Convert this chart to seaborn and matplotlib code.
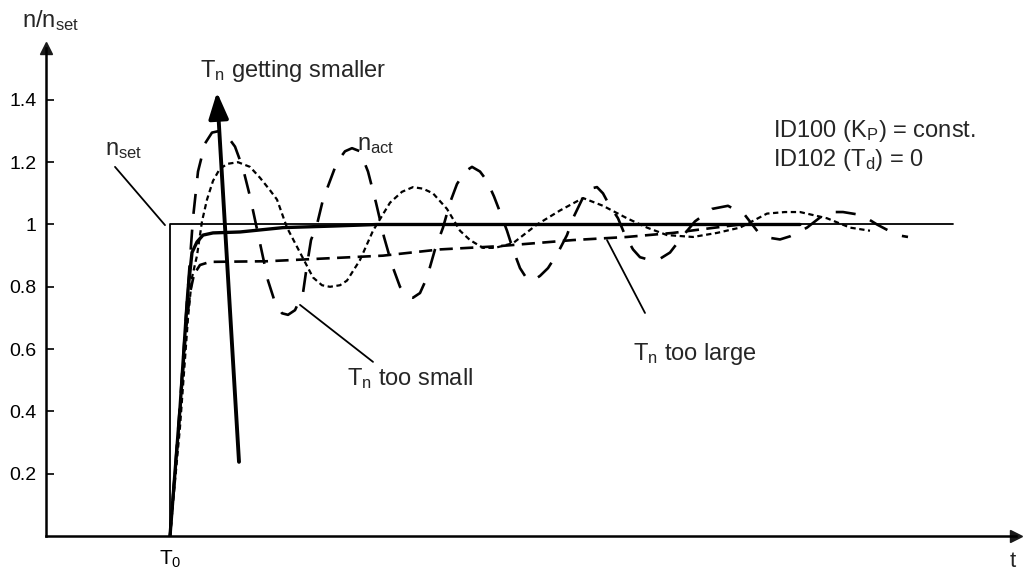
import numpy as np
import pandas as pd
import matplotlib
matplotlib.use("Agg")
import matplotlib.pyplot as plt
import seaborn as sns

# time axis: T0 = 0, arbitrary units
# reference step n_set
set_t = [0.0, 0.0, 7.83]
set_n = [0.0, 1.0, 1.0]

# T_n about right (thick solid)
ok_t = [0.0, 0.10, 0.16, 0.18, 0.22, 0.27, 0.33, 0.43, 0.70, 1.13, 1.63, 2.07, 3.30, 6.30]
ok_n = [0.0, 0.41, 0.70, 0.79, 0.91, 0.944, 0.966, 0.973, 0.976, 0.99, 0.995, 1.0, 1.0, 1.0]

# T_n too small (long dash), (t, n) pairs
small_pts = [(0.0, 0.0), (0.10, 0.42), (0.18, 0.80), (0.23, 1.02), (0.28, 1.17), (0.35, 1.26),
             (0.42, 1.295), (0.49, 1.30), (0.57, 1.285), (0.65, 1.25), (0.73, 1.18), (0.80, 1.09),
             (0.86, 1.0), (0.92, 0.91), (0.98, 0.82), (1.05, 0.75), (1.12, 0.715), (1.18, 0.71),
             (1.25, 0.725), (1.33, 0.78), (1.37, 0.87), (1.41, 0.95), (1.47, 1.0), (1.53, 1.08),
             (1.60, 1.14), (1.67, 1.20), (1.75, 1.235), (1.82, 1.245), (1.90, 1.235), (1.98, 1.17),
             (2.06, 1.07), (2.14, 0.96), (2.22, 0.87), (2.30, 0.80), (2.37, 0.77), (2.43, 0.765),
             (2.50, 0.78), (2.57, 0.83), (2.65, 0.92), (2.73, 0.99), (2.80, 1.07), (2.87, 1.13),
             (2.95, 1.17), (3.02, 1.185), (3.10, 1.17), (3.17, 1.14), (3.24, 1.09), (3.30, 1.04),
             (3.37, 0.98), (3.43, 0.92), (3.50, 0.86), (3.57, 0.825), (3.63, 0.82), (3.70, 0.835),
             (3.78, 0.86), (3.88, 0.91), (3.97, 0.966), (4.03, 1.02), (4.12, 1.08), (4.20, 1.115),
             (4.27, 1.12), (4.33, 1.10), (4.38, 1.07), (4.48, 1.02), (4.55, 0.966), (4.63, 0.92),
             (4.70, 0.895), (4.80, 0.886), (4.90, 0.89), (5.00, 0.91), (5.12, 0.96), (5.25, 1.01),
             (5.42, 1.05), (5.58, 1.06), (5.75, 1.03), (5.88, 0.976), (6.00, 0.957), (6.10, 0.952),
             (6.20, 0.962), (6.37, 0.99), (6.53, 1.03), (6.65, 1.04), (6.73, 1.04), (6.92, 1.03),
             (7.07, 1.0), (7.27, 0.966), (7.38, 0.96)]
small_t = [p[0] for p in small_pts]
small_n = [p[1] for p in small_pts]

# n_act, medium oscillation (short dash)
act_t = [0.0, 0.10, 0.18, 0.22, 0.27, 0.32, 0.37, 0.43, 0.50, 0.58, 0.68, 0.80, 0.90,
         1.00, 1.07, 1.17, 1.30, 1.43, 1.52, 1.60, 1.70, 1.77, 1.90, 2.03, 2.20, 2.32,
         2.43, 2.53, 2.63, 2.77, 2.90, 3.00, 3.13, 3.25, 3.43, 3.67, 3.90, 4.13, 4.33,
         4.57, 4.77, 4.97, 5.23, 5.47, 5.70, 5.97, 6.15, 6.30, 6.57, 6.80, 7.00]
act_n = [0.0, 0.35, 0.70, 0.83, 0.90, 1.01, 1.08, 1.14, 1.18, 1.195, 1.20, 1.185, 1.15,
         1.11, 1.08, 0.99, 0.91, 0.83, 0.805, 0.80, 0.805, 0.82, 0.886, 0.98, 1.07, 1.105,
         1.12, 1.115, 1.10, 1.05, 0.98, 0.95, 0.925, 0.925, 0.94, 1.0, 1.045, 1.085, 1.06,
         1.02, 0.99, 0.966, 0.96, 0.973, 0.99, 1.035, 1.04, 1.04, 1.02, 0.99, 0.98]

# T_n too large (medium dash)
large_t = [0.0, 0.10, 0.16, 0.20, 0.24, 0.30, 0.40, 0.97, 2.13, 2.70, 3.27, 4.03, 4.57, 5.03, 5.70, 6.20]
large_n = [0.0, 0.40, 0.66, 0.78, 0.84, 0.87, 0.88, 0.882, 0.90, 0.92, 0.93, 0.95, 0.96, 0.973, 1.0, 1.0]

y_ticks = [0.2, 0.4, 0.6, 0.8, 1.0, 1.2, 1.4]
y_tick_labels = ["0.2", "0.4", "0.6", "0.8", "1", "1.2", "1.4"]

sns.set_theme(style="white")
plt.rcParams['font.family'] = ['Liberation Sans', 'DejaVu Sans']
plt.rcParams['mathtext.default'] = 'regular'

fig = plt.figure(figsize=(10.27, 5.76), dpi=100)
ax = fig.add_axes([46 / 1027, 40 / 576, 970 / 1027, 488 / 576])

def curve(t, n, lw, ls):
    df = pd.DataFrame({"t": t, "n": n})
    sns.lineplot(data=df, x="t", y="n", ax=ax, color="black", lw=lw, linestyle=ls,
                 estimator=None, sort=False, legend=False)

curve(set_t, set_n, 1.3, "-")
curve(large_t, large_n, 1.9, (0, (5.0, 2.8)))
curve(act_t, act_n, 1.6, (0, (2.4, 1.6)))
curve(small_t, small_n, 1.9, (0, (7.6, 6.0)))
curve(ok_t, ok_n, 2.4, "-")

ax.set_xlim(-1.24, 8.46)
ax.set_ylim(0, 1.5666)
ax.set_xlabel("")
ax.set_ylabel("")

sns.despine(ax=ax)
for s in ["left", "bottom"]:
    ax.spines[s].set_linewidth(1.8)
    ax.spines[s].set_color("black")
ax.plot(1, 0, ">k", transform=ax.transAxes, clip_on=False, ms=9)
ax.plot(0, 1, "^k", transform=ax.transAxes, clip_on=False, ms=9)

ax.set_yticks(y_ticks)
ax.set_yticklabels(y_tick_labels)
ax.set_xticks([0])
ax.set_xticklabels([r"T$_0$"])
ax.tick_params(axis="y", direction="in", length=6, width=1.2, pad=7, labelsize=14, left=True, colors="black")
ax.tick_params(axis="x", length=0, pad=9, labelsize=15, colors="black")

fs = 17
# labels and pointers
ax.annotate("", xy=(-0.05, 0.998), xytext=(-0.55, 1.185),
            arrowprops=dict(arrowstyle="-", lw=1.3, color="black", shrinkA=0, shrinkB=0))
ax.text(-0.65, 1.223, r"n$_{set}$", fontsize=fs, ha="left", va="baseline")
ax.text(1.87, 1.239, r"n$_{act}$", fontsize=fs, ha="left", va="baseline")

ax.annotate("", xy=(0.47, 1.425), xytext=(0.69, 0.238),
            arrowprops=dict(arrowstyle="-|>,head_length=0.8,head_width=0.3", lw=2.8,
                            color="black", shrinkA=0, shrinkB=0, mutation_scale=20))
ax.text(0.30, 1.473, r"T$_n$ getting smaller", fontsize=fs, ha="left", va="baseline")

ax.annotate("", xy=(1.30, 0.742), xytext=(2.03, 0.559),
            arrowprops=dict(arrowstyle="-", lw=1.3, color="black", shrinkA=0, shrinkB=0))
ax.text(1.77, 0.485, r"T$_n$ too small", fontsize=fs, ha="left", va="baseline")

ax.annotate("", xy=(4.37, 0.950), xytext=(4.75, 0.716),
            arrowprops=dict(arrowstyle="-", lw=1.3, color="black", shrinkA=0, shrinkB=0))
ax.text(4.63, 0.565, r"T$_n$ too large", fontsize=fs, ha="left", va="baseline")

ax.text(6.03, 1.281, r"ID100 (K$_P$) = const.", fontsize=fs, ha="left", va="baseline")
ax.text(6.03, 1.188, r"ID102 (T$_d$) = 0", fontsize=fs, ha="left", va="baseline")

fig.text(22 / 1027, 1 - 27 / 576, r"n/n$_{set}$", fontsize=fs, ha="left", va="baseline")
fig.text(1013 / 1027, 1 - 567 / 576, "t", fontsize=16, ha="center", va="baseline")

fig.savefig("out.png", dpi=100)
